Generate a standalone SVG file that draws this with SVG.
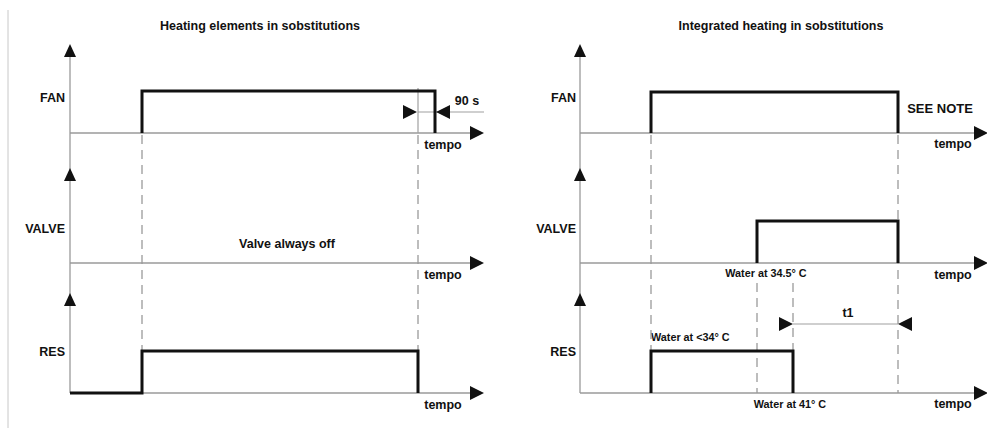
<svg xmlns="http://www.w3.org/2000/svg" width="987" height="430" viewBox="0 0 987 430">
<defs>
<style>
text{font-family:"Liberation Sans",Arial,sans-serif;font-weight:bold;fill:#111}
.t{font-size:12.5px;text-anchor:middle}
.lab{font-size:12.5px;text-anchor:end}
.sm{font-size:10.8px}
.ax{stroke:#9a9a9a;stroke-width:1.3;fill:none}
.sig{stroke:#111;stroke-width:3;fill:none;stroke-linejoin:miter}
.dash{stroke:#9a9a9a;stroke-width:1.3;stroke-dasharray:9 6;fill:none}
.dim{stroke:#a0a0a0;stroke-width:1.2;fill:none}
.tri{fill:#111}
</style>
</defs>
<rect width="987" height="430" fill="#fff"/>
<line x1="8" y1="10" x2="8" y2="428" stroke="#c8c8c8" stroke-width="1"/>

<g id="title-left"><text class="t" x="260" y="30">Heating elements in sobstitutions</text></g>
<g id="title-right"><text class="t" x="781" y="30">Integrated heating in sobstitutions</text></g>

<g id="axes-left">
<line class="ax" x1="70" y1="55" x2="70" y2="393"/>
<polygon class="tri" points="70,44 64,57 76,57"/>
<polygon class="tri" points="70,168 64,181 76,181"/>
<polygon class="tri" points="70,293 64,306 76,306"/>
<line class="ax" x1="70" y1="133" x2="472" y2="133"/>
<polygon class="tri" points="484,133 470,126 470,140"/>
<line class="ax" x1="70" y1="263" x2="472" y2="263"/>
<polygon class="tri" points="484,263 470,256 470,270"/>
<line class="ax" x1="70" y1="393" x2="472" y2="393"/>
<polygon class="tri" points="484,393 470,386 470,400"/>
</g>
<g id="labels-left">
<text class="lab" x="65" y="102">FAN</text>
<text class="lab" x="65" y="233">VALVE</text>
<text class="lab" x="65" y="356">RES</text>
<text class="t" x="443" y="149">tempo</text>
<text class="t" x="443" y="279">tempo</text>
<text class="t" x="443" y="409">tempo</text>
<text class="t" x="287" y="248">Valve always off</text>
<text class="t" x="467" y="105">90 s</text>
</g>
<g id="connectors-left">
<line class="dash" x1="142" y1="135" x2="142" y2="393"/>
<line class="dim" x1="418" y1="88" x2="418" y2="133"/>
<line class="dash" x1="418" y1="135" x2="418" y2="393"/>
<line class="dim" x1="418" y1="112" x2="484" y2="112"/>
<polygon class="tri" points="417,112 403,105 403,119"/>
<polygon class="tri" points="436,112 450,105 450,119"/>
</g>
<g id="signals-left">
<polyline class="sig" points="142,133 142,91 435,91 435,133"/>
<polyline class="sig" points="70,393 142,393 142,351 418,351 418,393"/>
</g>

<g id="axes-right">
<line class="ax" x1="580" y1="55" x2="580" y2="393"/>
<polygon class="tri" points="580,44 574,57 586,57"/>
<polygon class="tri" points="580,168 574,181 586,181"/>
<polygon class="tri" points="580,293 574,306 586,306"/>
<line class="ax" x1="580" y1="133" x2="976" y2="133"/>
<polygon class="tri" points="988,133 974,126 974,140"/>
<line class="ax" x1="580" y1="263" x2="976" y2="263"/>
<polygon class="tri" points="988,263 974,256 974,270"/>
<line class="ax" x1="580" y1="393" x2="976" y2="393"/>
<polygon class="tri" points="988,393 974,386 974,400"/>
</g>
<g id="labels-right">
<text class="lab" x="576" y="102">FAN</text>
<text class="lab" x="576" y="233">VALVE</text>
<text class="lab" x="576" y="356">RES</text>
<text class="t" x="953" y="148">tempo</text>
<text class="t" x="953" y="279">tempo</text>
<text class="t" x="953" y="408">tempo</text>
<text x="940" y="113" style="font-size:13px;text-anchor:middle">SEE NOTE</text>
<text class="sm" x="766" y="277" text-anchor="middle">Water at 34.5° C</text>
<text class="sm" x="651" y="341">Water at &lt;34° C</text>
<text class="sm" x="790" y="408" text-anchor="middle">Water at 41° C</text>
<text class="t" x="848" y="317">t1</text>
</g>
<g id="connectors-right">
<line class="dash" x1="651" y1="135" x2="651" y2="393"/>
<line class="dash" x1="898" y1="135" x2="898" y2="393"/>
<line class="dash" x1="757" y1="283" x2="757" y2="393"/>
<line class="dash" x1="793" y1="283" x2="793" y2="351"/>
<line class="dim" x1="793" y1="324" x2="898" y2="324"/>
<polygon class="tri" points="793,324 779,317 779,331"/>
<polygon class="tri" points="898,324 912,317 912,331"/>
</g>
<g id="signals-right">
<polyline class="sig" points="651,133 651,92 898,92 898,133"/>
<polyline class="sig" points="757,263 757,221 898,221 898,263"/>
<polyline class="sig" points="651,393 651,351 793,351 793,393"/>
</g>
</svg>
